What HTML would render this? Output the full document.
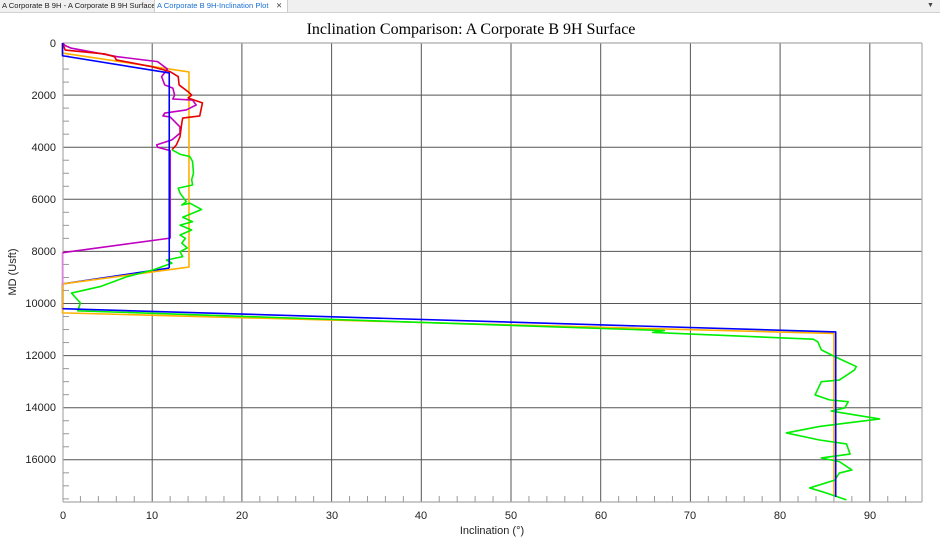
<!DOCTYPE html>
<html><head><meta charset="utf-8"><style>
body{margin:0;width:940px;height:537px;overflow:hidden;background:#fff;font-family:"Liberation Sans",sans-serif;}
.tabs{position:absolute;left:0;top:0;width:940px;height:12px;background:#f0f0f0;border-bottom:1px solid #d0d0d0;font-size:7.6px;}
.t{position:absolute;top:0;height:12px;line-height:12px;padding:0 2px;white-space:nowrap;overflow:hidden;}
</style></head><body>
<div class="tabs">
<div class="t" style="left:0;width:150px;color:#222;border-right:1px solid #ccc;">A Corporate B 9H - A Corporate B 9H Surface</div>
<div class="t" style="left:155px;background:#fff;color:#1a6fd0;border-right:1px solid #ccc;width:128px;">A Corporate B 9H-Inclination Plot <span style="color:#444;position:absolute;left:121px">✕</span></div>
<div class="t" style="left:925px;color:#444;font-size:7px;">▼</div>
</div>
<svg width="940" height="537" style="position:absolute;left:0;top:0" xmlns="http://www.w3.org/2000/svg">
<text x="471" y="34" text-anchor="middle" font-family="Liberation Serif,serif" font-size="16">Inclination Comparison: A Corporate B 9H Surface</text>
<g stroke="#555" stroke-width="1">
<line x1="152.2" y1="43" x2="152.2" y2="502"/><line x1="241.9" y1="43" x2="241.9" y2="502"/><line x1="331.6" y1="43" x2="331.6" y2="502"/><line x1="421.3" y1="43" x2="421.3" y2="502"/><line x1="511" y1="43" x2="511" y2="502"/><line x1="600.7" y1="43" x2="600.7" y2="502"/><line x1="690.4" y1="43" x2="690.4" y2="502"/><line x1="780.1" y1="43" x2="780.1" y2="502"/><line x1="869.8" y1="43" x2="869.8" y2="502"/>
<line x1="63" y1="95.1" x2="922" y2="95.1"/><line x1="63" y1="147.2" x2="922" y2="147.2"/><line x1="63" y1="199.3" x2="922" y2="199.3"/><line x1="63" y1="251.4" x2="922" y2="251.4"/><line x1="63" y1="303.5" x2="922" y2="303.5"/><line x1="63" y1="355.6" x2="922" y2="355.6"/><line x1="63" y1="407.7" x2="922" y2="407.7"/><line x1="63" y1="459.8" x2="922" y2="459.8"/>
</g>
<g stroke="#aaa" stroke-width="1.2" fill="none">
<line x1="63" y1="43" x2="922" y2="43"/><line x1="922" y1="43" x2="922" y2="502"/>
<line x1="63" y1="43" x2="63" y2="502"/><line x1="63" y1="502" x2="922" y2="502"/>
</g>
<g id="ticks" stroke="#999" stroke-width="1"></g>
<g font-size="11" fill="#222" text-anchor="end">
<text x="56" y="47">0</text><text x="56" y="99">2000</text><text x="56" y="151">4000</text><text x="56" y="203">6000</text><text x="56" y="255">8000</text><text x="56" y="307">10000</text><text x="56" y="359">12000</text><text x="56" y="411">14000</text><text x="56" y="463">16000</text>
</g>
<g font-size="11" fill="#222" text-anchor="middle">
<text x="63" y="519">0</text><text x="152" y="519">10</text><text x="242" y="519">20</text><text x="332" y="519">30</text><text x="421" y="519">40</text><text x="511" y="519">50</text><text x="601" y="519">60</text><text x="690" y="519">70</text><text x="780" y="519">80</text><text x="870" y="519">90</text>
<text x="492" y="534">Inclination (°)</text>
<text transform="translate(16,272) rotate(-90)">MD (Usft)</text>
</g>
<g transform="translate(62.5,43) scale(8.97,0.02605)" fill="none" stroke-width="1.6" stroke-linejoin="round">
<polyline vector-effect="non-scaling-stroke" stroke="#0000ff" points="11.9,8640 0,9250 0,10200"/>
<polyline vector-effect="non-scaling-stroke" stroke="#ffb000" points="0,0 0,385 14.1,1110 14.1,8600 0,9250 0,10360 86,11150 86,17400"/>
<polyline vector-effect="non-scaling-stroke" stroke="#e080e0" points="0,8050 0,9300"/>
<polyline vector-effect="non-scaling-stroke" stroke="#c000c0" points="0,0 0.3,100 1,200 6.1,525 10.6,715 11.7,1000 11.05,1290 11.4,1610 12.3,1730 12.5,2000 12.3,2150 14.5,2190 14.9,2380 13.8,2570 11.4,2690 11.2,2800 12,2840 13.1,3220 13.1,3460 12.2,3720 10.5,3910 10.6,4000 12,4130 12,7490 0,8050"/>
<polyline vector-effect="non-scaling-stroke" stroke="#e60000" points="0,0 0.3,270 4.7,420 5.8,525 6,650 10.1,920 12,1100 12.9,1290 13,1610 14,1870 14.4,2000 14,2110 15.6,2300 15.3,2800 13.4,2880 13.3,3070 13.1,3600 12.7,3910 12.2,4100"/>
<polyline vector-effect="non-scaling-stroke" stroke="#00ee00" points="12.2,4100 13.1,4270 14.2,4360 14.5,4550 14.6,5000 14.4,5250 14.5,5450 12.9,5570 13.1,5760 13.8,6090 13.3,6220 14.2,6150 15.5,6390 13.4,6690 14.5,6860 13.1,6990 14.4,7180 13.1,7370 13.7,7500 13.3,7680 13.9,7870 13.1,8010 13.4,8200 11.6,8330 12.2,8450 10.1,8710 7.2,8970 4.2,9350 1,9600 2,9980 1.7,10280 67.1,11040 65.8,11110 83.7,11370 84.2,11470 84.6,11780 86.1,12040 88.5,12420 88.3,12550 86.6,12940 84.6,13000 83.9,13510 85.5,13700 87.6,13770 87.2,14010 85.7,14130 91.1,14430 84.4,14720 80.7,14970 84.4,15240 87.4,15390 87.8,15780 84.6,15930 86.6,16070 88,16390 86.6,16510 86.1,16780 83.3,17080 85.2,17280 87.4,17540"/>
<polyline vector-effect="non-scaling-stroke" stroke="#0000ff" points="0,0 0,490 11.9,1150 11.9,8640"/>
<polyline vector-effect="non-scaling-stroke" stroke="#0000ff" points="0,10200 86.2,11090 86.2,17430"/>
</g>
</svg>
<script>
var g=document.getElementById('ticks'),s='';
for(var d=2;d<96;d+=2){if(d%10){var x=62.5+d*8.97;s+='<line x1="'+x+'" y1="496" x2="'+x+'" y2="502"/>';}}
for(var m=500;m<17600;m+=500){if(m%2000){var y=43+m*0.02605;s+='<line x1="63" y1="'+y+'" x2="69" y2="'+y+'"/>';}}
g.innerHTML=s;
</script>
</body></html>
